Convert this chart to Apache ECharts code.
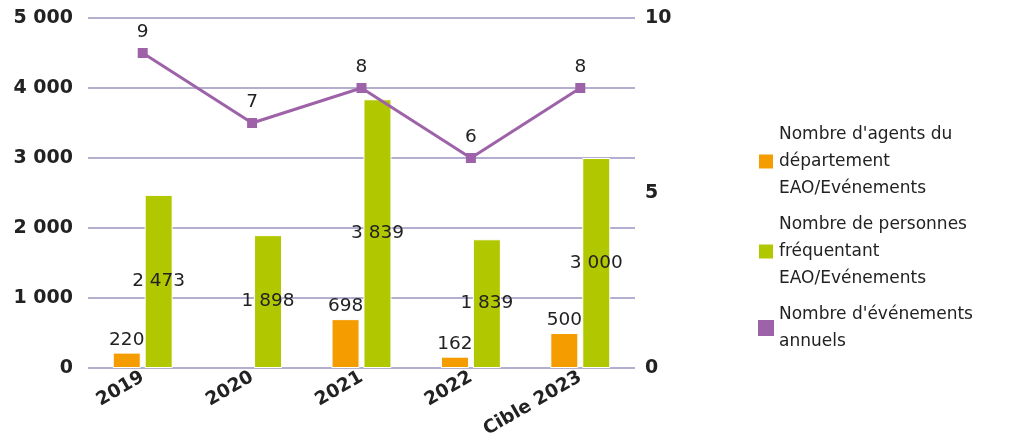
<!DOCTYPE html>
<html>
<head>
<meta charset="utf-8">
<script src="https://cdn.jsdelivr.net/npm/echarts@6/dist/echarts.min.js"></script>
<style>
  html, body { margin: 0; padding: 0; background: #fff; }
  #main { width: 1014px; height: 444px; }
</style>
</head>
<body>
<div id="main"></div>
<script>
var categories = ['2019', '2020', '2021', '2022', 'Cible 2023'];
var agents = [220, null, 698, 162, 500];
var personnes = [2473, 1898, 3839, 1839, 3000];
var evenements = [9, 7, 8, 6, 8];
var leftTicks = [0, 1000, 2000, 3000, 4000, 5000];
var rightTicks = [0, 5, 10];

var names = [
    "Nombre d'agents du\ndépartement\nEAO/Evénements",
    "Nombre de personnes\nfréquentant\nEAO/Evénements",
    "Nombre d'événements\nannuels"
];

// espace comme séparateur de milliers
function fmt(v) {
    return String(v).replace(/\B(?=(\d{3})+(?!\d))/g, ' ');
}

var myChart = echarts.init(document.getElementById('main'));
var font = 'DejaVu Sans';

var option = {
    animation: false,
    textStyle: { fontFamily: font },
    grid: { left: 88, right: 379, top: 18, bottom: 76 },
    legend: {
        orient: 'vertical',
        left: 752,
        top: 116,
        itemWidth: 16,
        itemHeight: 16,
        itemGap: 9,
        icon: 'rect',
        textStyle: { fontSize: 17, color: '#222', lineHeight: 27, fontFamily: font },
        data: names
    },
    xAxis: {
        type: 'category',
        data: categories,
        axisLine: { show: false },
        axisTick: { show: false },
        axisLabel: {
            rotate: 30,
            fontWeight: 'bold',
            fontSize: 18.5,
            color: '#222',
            margin: 8,
            interval: 0
        }
    },
    yAxis: [
        {
            type: 'value',
            min: leftTicks[0], max: leftTicks[leftTicks.length - 1], interval: 1000,
            axisLabel: {
                fontWeight: 'bold', fontSize: 19, color: '#222', margin: 15,
                formatter: function (v) { return fmt(v); }
            },
            splitLine: { lineStyle: { color: '#b4aed0', width: 2 } },
            axisLine: { show: false },
            axisTick: { show: false }
        },
        {
            type: 'value',
            min: rightTicks[0], max: rightTicks[rightTicks.length - 1], interval: 5,
            axisLabel: { fontWeight: 'bold', fontSize: 19, color: '#222', margin: 10 },
            splitLine: { show: false },
            axisLine: { show: false },
            axisTick: { show: false }
        }
    ],
    series: [
        {
            name: names[0],
            type: 'bar',
            data: agents,
            barWidth: 28,
            barGap: '14%',
            itemStyle: { color: '#f59c00', borderColor: '#fff', borderWidth: 1 },
            label: {
                show: true, position: 'top', fontSize: 18.5, color: '#222', distance: 3,
                formatter: function (p) { return fmt(p.value); }
            }
        },
        {
            name: names[1],
            type: 'bar',
            data: personnes,
            barWidth: 28,
            itemStyle: { color: '#b1c800', borderColor: '#fff', borderWidth: 1 },
            label: {
                show: true, position: 'inside', fontSize: 18.5, color: '#222',
                formatter: function (p) { return fmt(p.value); }
            }
        },
        {
            name: names[2],
            type: 'line',
            yAxisIndex: 1,
            data: evenements,
            symbol: 'rect',
            symbolSize: 10,
            itemStyle: { color: '#9e62a8' },
            lineStyle: { color: '#9e62a8', width: 3 },
            label: { show: true, position: 'top', fontSize: 18.5, color: '#222', distance: 6 }
        }
    ]
};

myChart.setOption(option);
</script>
</body>
</html>
